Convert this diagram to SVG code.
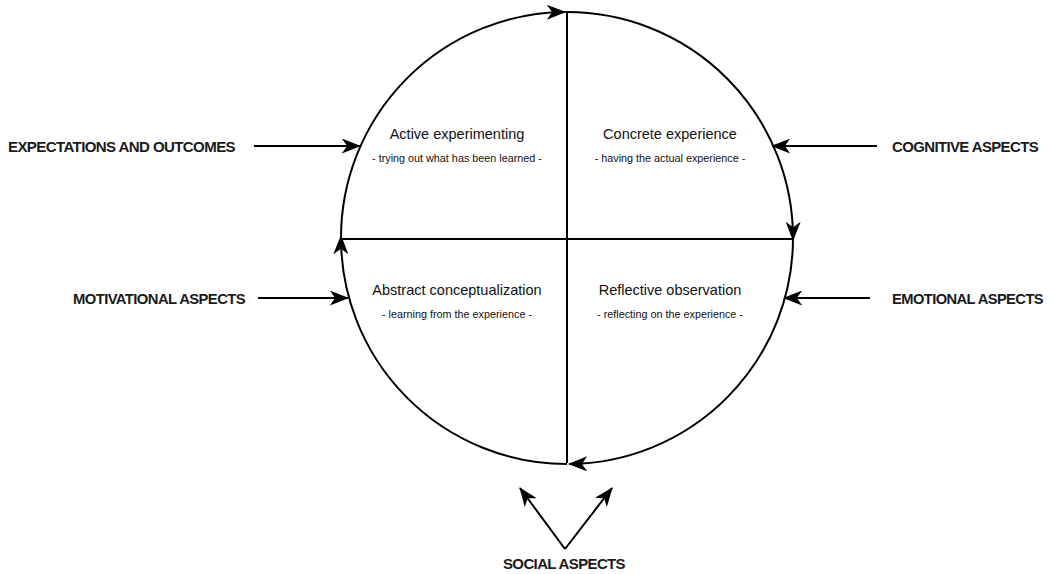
<svg xmlns="http://www.w3.org/2000/svg" width="1053" height="574" viewBox="0 0 1053 574">
<style>
.ln{fill:none;stroke:#000;stroke-width:2}
.lbl{font-family:"Liberation Sans",Arial,sans-serif;font-size:15px;font-weight:bold;fill:#1a1a1a;letter-spacing:-0.6px}
.t{font-family:"Liberation Sans",Arial,sans-serif;font-size:14.5px;fill:#111;text-anchor:middle}
.s{font-family:"Liberation Sans",Arial,sans-serif;font-size:10.8px;fill:#111;text-anchor:middle}
</style>
<defs>
<marker id="ah" markerUnits="userSpaceOnUse" markerWidth="20" markerHeight="15" refX="17" refY="7" orient="auto" viewBox="0 0 18 14">
<path d="M0,0 L18,7 L0,14 L5,7 Z" fill="#000"/>
</marker>
</defs>
<g id="cycle">
<path class="ln" d="M341,238 A226,226 0 0 1 565,12" marker-end="url(#ah)"/>
<path class="ln" d="M565,12 A226,226 0 0 1 793,240" marker-end="url(#ah)"/>
<path class="ln" d="M793,238 A226,226 0 0 1 569,464" marker-end="url(#ah)"/>
<path class="ln" d="M567,464 A226,226 0 0 1 341,236" marker-end="url(#ah)"/>
<line class="ln" x1="567" y1="13" x2="567" y2="463"/>
<line class="ln" x1="341" y1="239" x2="793" y2="239"/>
</g>
<g id="active-experimenting">
<text class="t" x="457" y="139">Active experimenting</text>
<text class="s" x="457" y="162">- trying out what has been learned -</text>
</g>
<g id="concrete-experience">
<text class="t" x="670" y="139">Concrete experience</text>
<text class="s" x="670" y="162">- having the actual experience -</text>
</g>
<g id="abstract-conceptualization">
<text class="t" x="457" y="295">Abstract conceptualization</text>
<text class="s" x="457" y="318">- learning from the experience -</text>
</g>
<g id="reflective-observation">
<text class="t" x="670" y="295">Reflective observation</text>
<text class="s" x="670" y="318">- reflecting on the experience -</text>
</g>
<g id="expectations"><text class="lbl" x="8" y="152" textLength="227" lengthAdjust="spacingAndGlyphs">EXPECTATIONS AND OUTCOMES</text></g>
<g id="cognitive"><text class="lbl" x="892" y="152" textLength="146" lengthAdjust="spacingAndGlyphs">COGNITIVE ASPECTS</text></g>
<g id="motivational"><text class="lbl" x="73" y="304" textLength="172" lengthAdjust="spacingAndGlyphs">MOTIVATIONAL ASPECTS</text></g>
<g id="emotional"><text class="lbl" x="892" y="304" textLength="151" lengthAdjust="spacingAndGlyphs">EMOTIONAL ASPECTS</text></g>
<g id="social"><text class="lbl" x="503" y="569" textLength="122" lengthAdjust="spacingAndGlyphs">SOCIAL ASPECTS</text></g>
<g id="connectors">
<line class="ln" x1="254" y1="146" x2="360" y2="146" marker-end="url(#ah)"/>
<line class="ln" x1="877" y1="146" x2="772" y2="146" marker-end="url(#ah)"/>
<line class="ln" x1="258" y1="298" x2="348" y2="298" marker-end="url(#ah)"/>
<line class="ln" x1="870" y1="298" x2="784" y2="298" marker-end="url(#ah)"/>
<line class="ln" x1="565" y1="549" x2="520" y2="488" marker-end="url(#ah)"/>
<line class="ln" x1="565" y1="549" x2="612" y2="488" marker-end="url(#ah)"/>
</g>
</svg>
